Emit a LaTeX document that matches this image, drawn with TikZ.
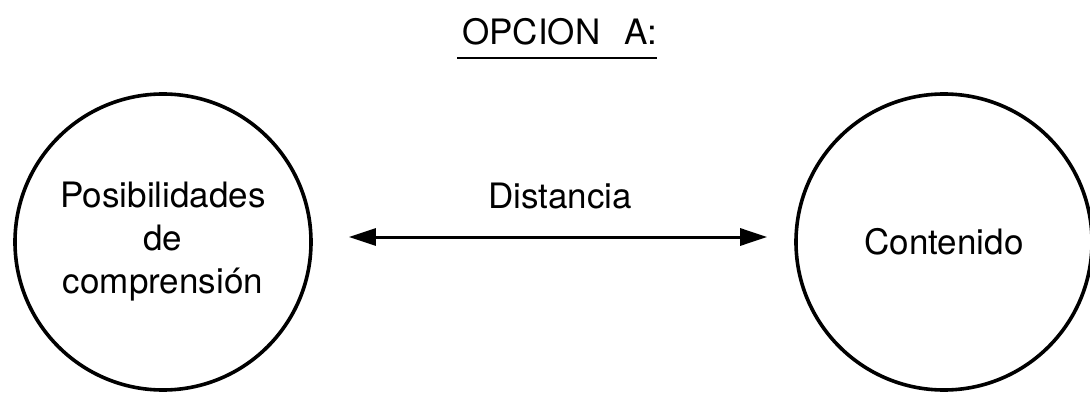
\documentclass[tikz,border=0pt]{standalone}
\usepackage{fontspec}
\setmainfont{TeX Gyre Heros}
\usetikzlibrary{arrows.meta}
\begin{document}
\begin{tikzpicture}[x=1pt,y=-1pt,
  circ/.style={draw=black, line width=3.6pt, circle, minimum size=296pt, inner sep=0pt, align=center,
     font=\fontsize{35}{43}\selectfont},
  txt/.style={font=\fontsize{35}{43}\selectfont, inner sep=0pt, anchor=base},
  dblarrow/.style={line width=3pt, {Triangle[length=27pt,width=17pt]}-{Triangle[length=27pt,width=17pt]}}
]
\useasboundingbox (0,0) rectangle (1090,393);
\node[txt] (title) at (560,45) {OPCION\hspace{0.69em}A:};
\coordinate (u1) at (457,58);
\coordinate (u2) at (657,58);
\draw[line width=2.4pt] (u1) -- (u2);
\node[circ] (L) at (163,242) {Posibilidades\\de\\comprensión};
\node[circ] (R) at (944,242) {Contenido};
\draw[dblarrow, shorten <=36pt, shorten >=27pt] ([yshift=5pt]L.east) -- ([yshift=5pt]R.west);
\node[txt] (dist) at (560,208) {Distancia};
\end{tikzpicture}
\end{document}
